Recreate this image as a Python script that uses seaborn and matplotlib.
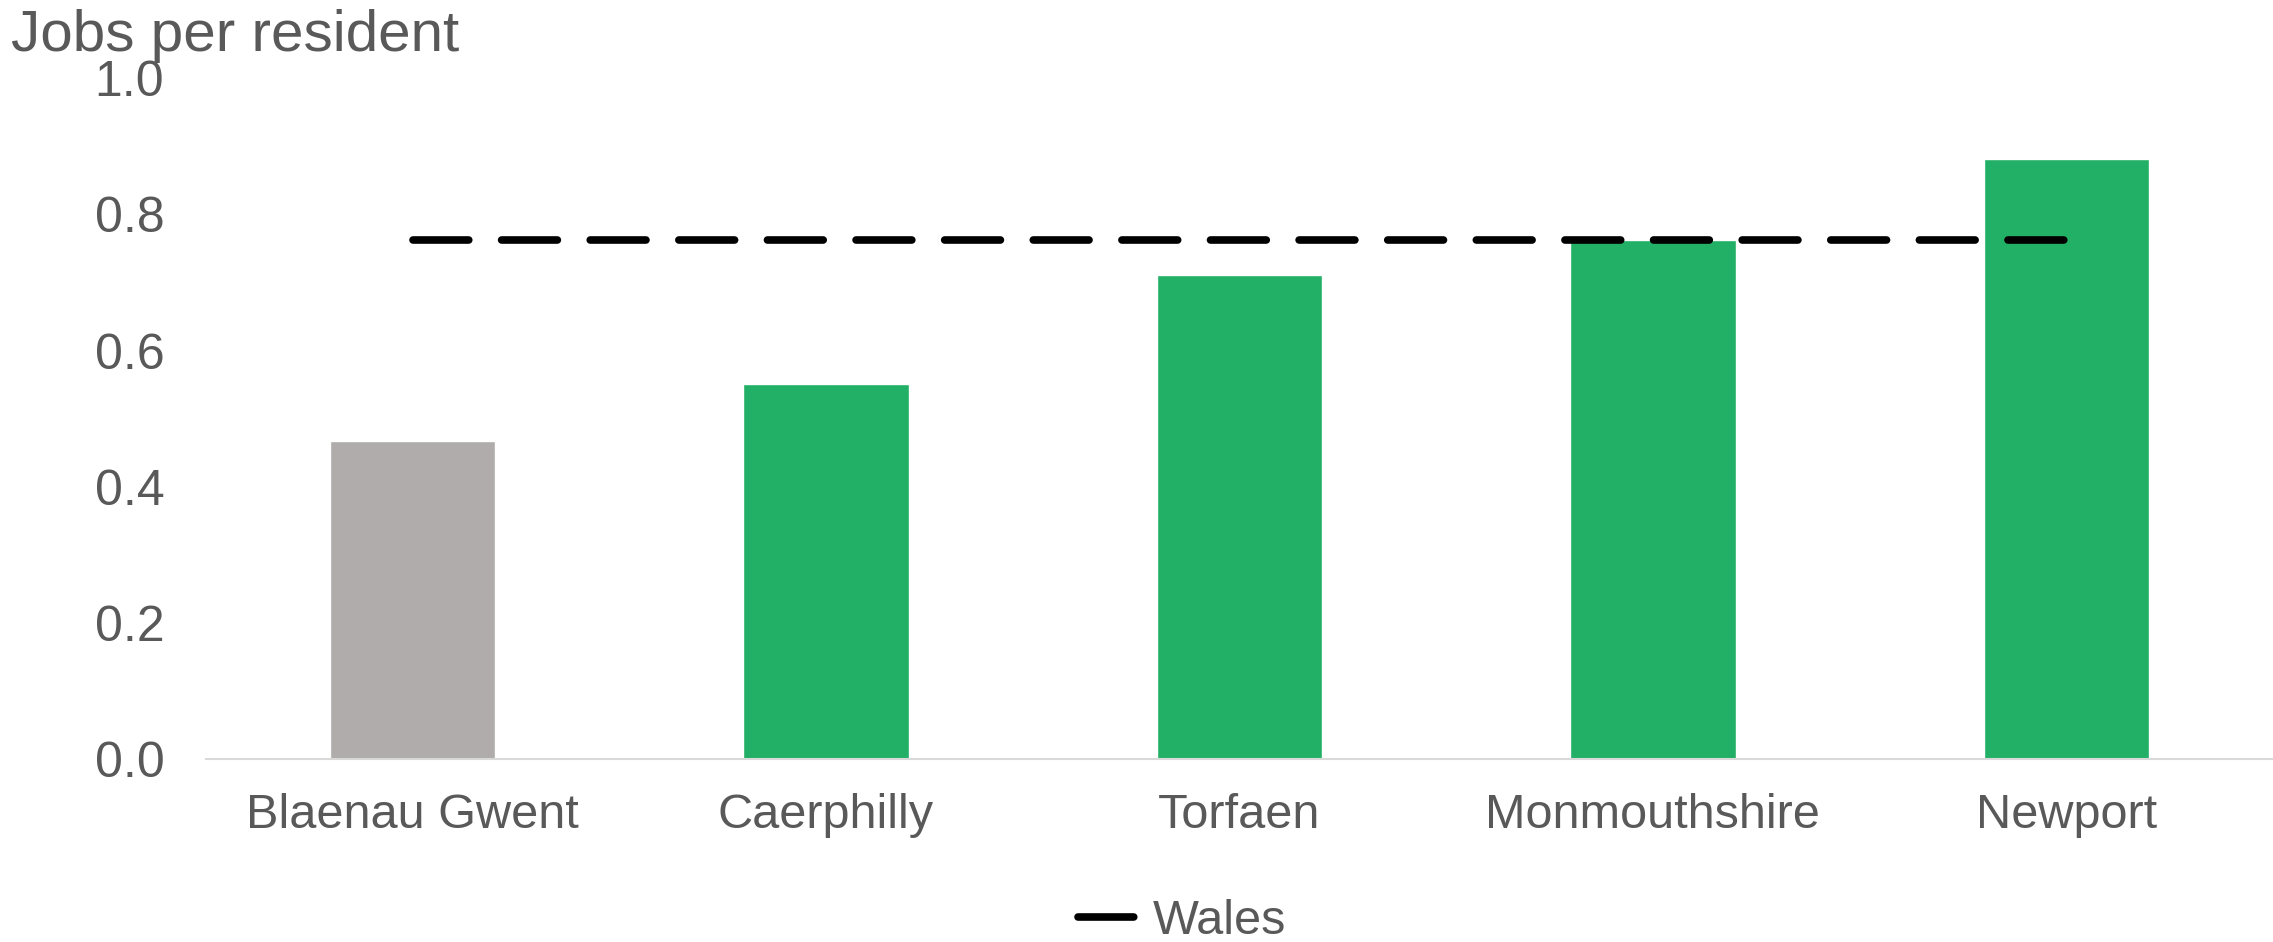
import numpy as np
import pandas as pd
import matplotlib
matplotlib.use('Agg')
import matplotlib.pyplot as plt
import seaborn as sns

# data
areas = ['Blaenau Gwent', 'Caerphilly', 'Torfaen', 'Monmouthshire', 'Newport']
jobs_per_resident = [0.468, 0.551, 0.711, 0.762, 0.881]
wales_avg = [0.762, 0.762, 0.762, 0.762, 0.762]
bar_colors = ['#AFACAB', '#22B066', '#22B066', '#22B066', '#22B066']
y_ticks = [0.0, 0.2, 0.4, 0.6, 0.8, 1.0]

text_grey = '#595959'

sns.set_theme(style='white')
plt.rcParams['font.family'] = ['Liberation Sans', 'DejaVu Sans']

df = pd.DataFrame({'area': areas, 'value': jobs_per_resident})

fig = plt.figure(figsize=(22.73, 9.42), dpi=100)
ax = fig.add_axes([0.0906, 0.194, 0.9094, 0.723])

sns.barplot(data=df, x='area', y='value', hue='area', palette=bar_colors,
            width=0.4, legend=False, saturation=1, ax=ax)

ax.plot(areas, wales_avg, color='black', lw=5.5, linestyle=(0, (7.3, 4.3)),
        dash_capstyle='round', label='Wales')

ax.set_xlim(-0.5, 4.5)
ax.set_ylim(0, 1.0)
ax.set_yticks(y_ticks)
ax.set_yticklabels([f'{t:.1f}' for t in y_ticks])
ax.set_xlabel('')
ax.set_ylabel('')

for s in ['top', 'right', 'left']:
    ax.spines[s].set_visible(False)
ax.spines['bottom'].set_color('#D9D9D9')
ax.spines['bottom'].set_linewidth(1.5)

ax.tick_params(axis='y', length=0, pad=30, labelsize=36, labelcolor=text_grey)
ax.tick_params(axis='x', length=0, pad=24, labelsize=35, labelcolor=text_grey)

fig.text(0.005, 0.99, 'Jobs per resident', ha='left', va='top',
         fontsize=42, color=text_grey)

leg = fig.legend(loc='center', bbox_to_anchor=(0.52, 0.022), frameon=False,
                 fontsize=35, handlelength=1.15, handletextpad=0.4)
for t in leg.get_texts():
    t.set_color(text_grey)

plt.savefig('out.png', dpi=100)
plt.close()
